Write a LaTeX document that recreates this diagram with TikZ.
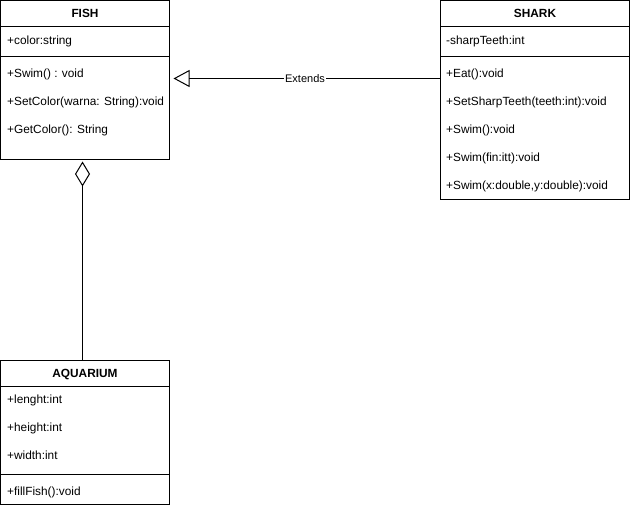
\documentclass[tikz,border=0pt]{standalone}
\usepackage{fontspec}
\setmainfont{Liberation Sans}
\usetikzlibrary{arrows.meta}
\tikzset{
  classbox/.style={draw=black, line width=1pt, fill=white, inner sep=0pt, outer sep=0pt, anchor=north west},
  member/.style={anchor=west, inner sep=0pt, yshift=-1.3pt, font=\fontsize{11.85}{14}\selectfont, text height=8.6pt, text depth=2.5pt},
  title/.style={anchor=center, inner sep=0pt, yshift=-1.3pt, font=\fontsize{11.85}{14}\selectfont\bfseries, text height=8.6pt, text depth=2.5pt},
  divider/.style={line width=1pt},
  conn/.style={line width=1pt},
  elabel/.style={fill=white, inner sep=1pt, yshift=-0.5pt, font=\fontsize{11}{13}\selectfont}
}
\begin{document}
\begin{tikzpicture}[x=1pt,y=-1pt]
\useasboundingbox (0,0) rectangle (631,508);
% FISH
\node[classbox, minimum width=169pt, minimum height=159pt] (fish) at (0.5,0.5) {};
\draw[divider] (0.5,26.5) -- (169.5,26.5);
\draw[divider] (0.5,56.5) -- (169.5,56.5);
\node[title] (fisht) at (85,13) {FISH};
\node[member] (f1) at (7,40) {+color:string};
\node[member] (f2) at (7,73) {+Swim() : void};
\node[member] (f3) at (7,101) {+SetColor(warna: String):void};
\node[member] (f4) at (7,129) {+GetColor(): String};
% SHARK
\node[classbox, minimum width=189pt, minimum height=199pt] (shark) at (440.5,0.5) {};
\draw[divider] (440.5,26.5) -- (629.5,26.5);
\draw[divider] (440.5,56.5) -- (629.5,56.5);
\node[title] (sharkt) at (535,13) {SHARK};
\node[member] (s1) at (446,40) {-sharpTeeth:int};
\node[member] (s2) at (446,73) {+Eat():void};
\node[member] (s3) at (446,101) {+SetSharpTeeth(teeth:int):void};
\node[member] (s4) at (446,129) {+Swim():void};
\node[member] (s5) at (446,157) {+Swim(fin:itt):void};
\node[member] (s6) at (446,185) {+Swim(x:double,y:double):void};
% AQUARIUM
\node[classbox, minimum width=169pt, minimum height=144pt] (aqua) at (0.5,360.5) {};
\draw[divider] (0.5,386.5) -- (169.5,386.5);
\draw[divider] (0.5,474.5) -- (169.5,474.5);
\node[title] (aquat) at (85,373) {AQUARIUM};
\node[member] (a1) at (7,399) {+lenght:int};
\node[member] (a2) at (7,427) {+height:int};
\node[member] (a3) at (7,455) {+width:int};
\node[member] (a4) at (7,491) {+fillFish():void};
% connectors
\coordinate (yext) at (0,78.5);
\coordinate (xagg) at (82.5,0);
\draw[conn, -{Triangle[open, length=16pt, width=17pt, line width=1pt]}, shorten >=4pt]
  (shark.west |- yext) -- node[elabel] (ext) {Extends} (fish.east |- yext);
\draw[conn, -{Diamond[open, length=25pt, width=15pt, line width=1pt]}, shorten >=2pt]
  (aqua.north -| xagg) -- (fish.south -| xagg);
\end{tikzpicture}
\end{document}
